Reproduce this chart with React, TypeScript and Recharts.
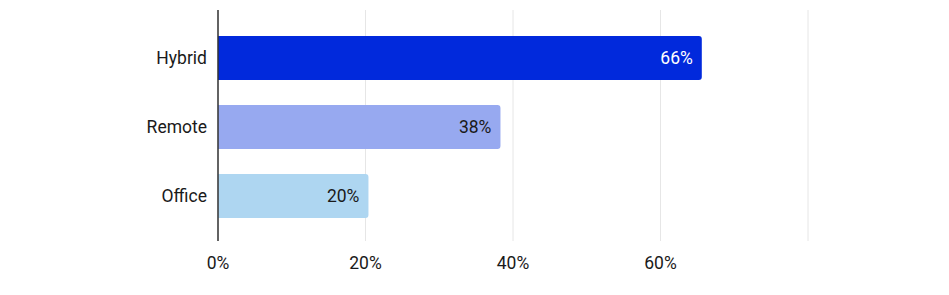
import { Bar, BarChart, CartesianGrid, Cell, LabelList, XAxis, YAxis } from 'recharts';

const CATEGORIES = ['Hybrid', 'Remote', 'Office'];
const SHARES = [65.6, 38.3, 20.4];
const BAR_COLORS = ['#0129dc', '#97a9f0', '#aed6f1'];
const LABEL_COLORS = ['#ffffff', '#1a1a1a', '#1a1a1a'];
const X_TICKS = [0, 20, 40, 60, 80];
const X_TICK_LABELS = ['0%', '20%', '40%', '60%', ''];

const FONT = 'Roboto, "Noto Sans", sans-serif';
const TEXT = '#1a1a1a';
const FONT_SIZE = 17.5;

const data = CATEGORIES.map((name, i) => ({ name, share: SHARES[i] }));

function BarValueLabel(props: any) {
  const { x, y, width, height, value, index } = props;
  return (
    <text
      x={x + width - 9}
      y={y + height / 2}
      textAnchor="end"
      dominantBaseline="central"
      fill={LABEL_COLORS[index]}
      fontSize={FONT_SIZE}
      fontFamily={FONT}
    >
      {`${Math.round(value)}%`}
    </text>
  );
}

export default function App() {
  return (
    <div style={{ position: 'absolute', left: 0, top: 0, background: '#fff' }}>
      <BarChart
        width={949}
        height={295}
        data={data}
        layout="vertical"
        margin={{ top: 10, right: 141, left: 0, bottom: 23 }}
        barSize={44}
      >
        <CartesianGrid vertical horizontal={false} stroke="#e6e6e6" />
        <XAxis
          type="number"
          domain={[0, 80]}
          ticks={X_TICKS}
          tickFormatter={(v: number) => X_TICK_LABELS[X_TICKS.indexOf(v)]}
          axisLine={false}
          tickLine={false}
          tickMargin={10}
          height={31}
          tick={{ fill: TEXT, fontSize: FONT_SIZE, fontFamily: FONT }}
        />
        <YAxis
          type="category"
          dataKey="name"
          width={218}
          padding={{ top: 13, bottom: 11 }}
          axisLine={{ stroke: '#333333', strokeWidth: 1.5 }}
          tickLine={false}
          tickMargin={5}
          tick={{ fill: TEXT, fontSize: FONT_SIZE, fontFamily: FONT }}
        />
        <Bar dataKey="share" radius={[0, 3, 3, 0]} isAnimationActive={false}>
          {data.map((d, i) => (
            <Cell key={d.name} fill={BAR_COLORS[i]} />
          ))}
          <LabelList dataKey="share" content={<BarValueLabel />} />
        </Bar>
      </BarChart>
    </div>
  );
}
